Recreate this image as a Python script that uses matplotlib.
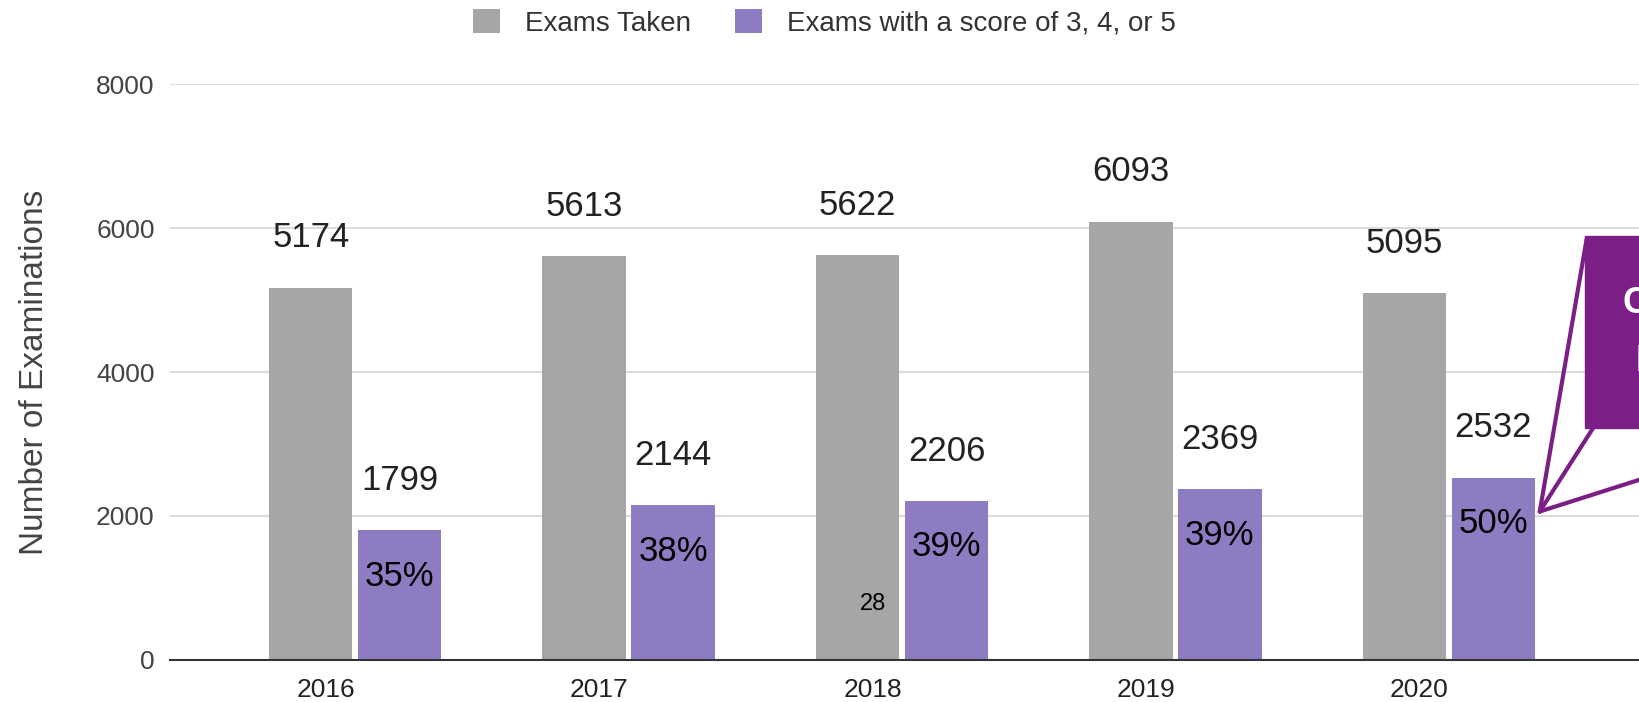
import matplotlib.pyplot as plt
from matplotlib.patches import Rectangle

years = ["2016", "2017", "2018", "2019", "2020"]
exams_taken = [5174, 5613, 5622, 6093, 5095]
exams_passed = [1799, 2144, 2206, 2369, 2532]
pass_rates = ["35%", "38%", "39%", "39%", "50%"]
y_ticks = [0, 2000, 4000, 6000, 8000]

GRAY = "#a6a6a6"
PURPLE = "#8e7cc3"
CALLOUT = "#7b1f86"

plt.rcParams['font.family'] = ['Liberation Sans', 'DejaVu Sans']

fig = plt.figure(figsize=(16.39, 7.02), dpi=100)
ax = fig.add_axes([0.1037, 0.0604, 0.8963, 0.8193])

x = list(range(len(years)))
w = 0.305
gx = [i - 0.055 for i in x]
px = [i + 0.27 for i in x]
ax.bar(gx, exams_taken, width=w, color=GRAY, label="Exams Taken", zorder=2)
ax.bar(px, exams_passed, width=w, color=PURPLE, label="Exams with a score of 3, 4, or 5", zorder=2)

for xi, v in zip(gx, exams_taken):
    ax.annotate(str(v), (xi, v), xytext=(0, 36), textcoords="offset points",
                ha="center", va="center", fontsize=25, color="#222222")
for xi, v, p in zip(px, exams_passed, pass_rates):
    ax.annotate(str(v), (xi, v), xytext=(0, 36), textcoords="offset points",
                ha="center", va="center", fontsize=25, color="#222222")
    ax.annotate(p, (xi, v), xytext=(0, -33), textcoords="offset points",
                ha="center", va="center", fontsize=25, color="black", zorder=3)

# stray label inside the 2018 bar
ax.text(2.0, 774, "28", ha="center", va="center", fontsize=17, color="black", zorder=3)

ax.set_xlim(-0.570, 4.803)
ax.set_ylim(0, 8000)
ax.set_yticks(y_ticks)
ax.set_xticks(x)
ax.set_xticklabels(years)
ax.tick_params(axis="y", length=0, pad=11, labelsize=19, labelcolor="#444444")
ax.tick_params(axis="x", length=0, pad=13, labelsize=19, labelcolor="#222222")
ax.grid(axis="y", color="#d9d9d9", linewidth=1.3, zorder=0)
ax.set_axisbelow(True)
for s in ["top", "right", "left"]:
    ax.spines[s].set_visible(False)
ax.spines["bottom"].set_color("#333333")
ax.spines["bottom"].set_linewidth(1.5)
ax.spines["bottom"].set_zorder(4)

ax.set_ylabel("Number of Examinations", fontsize=24, color="#444444")
ax.yaxis.set_label_coords(-0.082, 0.5)

fig.legend(loc="center", bbox_to_anchor=(0.503, 0.967), ncol=2, frameon=False,
           fontsize=20, handlelength=0.95, handleheight=0.95, columnspacing=1.6,
           handletextpad=0.9, labelcolor="#333333")

# callout box pointing at the 2020 bar
tip = (4.44, 2060)
ax.add_patch(Rectangle((4.605, 3220), 0.5, 2668, color=CALLOUT, zorder=5, clip_on=False))
for end in [(4.612, 5860), (4.635, 3220), (4.81, 2508)]:
    ax.plot([tip[0], end[0]], [tip[1], end[1]], color=CALLOUT, linewidth=3,
            zorder=5, clip_on=False, solid_capstyle="round")
ax.text(4.742, 4960, "C", color="white", fontsize=26, fontweight="bold",
        ha="left", va="center", zorder=6, clip_on=False)
ax.text(4.792, 4140, "I", color="white", fontsize=26, fontweight="bold",
        ha="left", va="center", zorder=6, clip_on=False)

fig.savefig("out.png", dpi=100)
